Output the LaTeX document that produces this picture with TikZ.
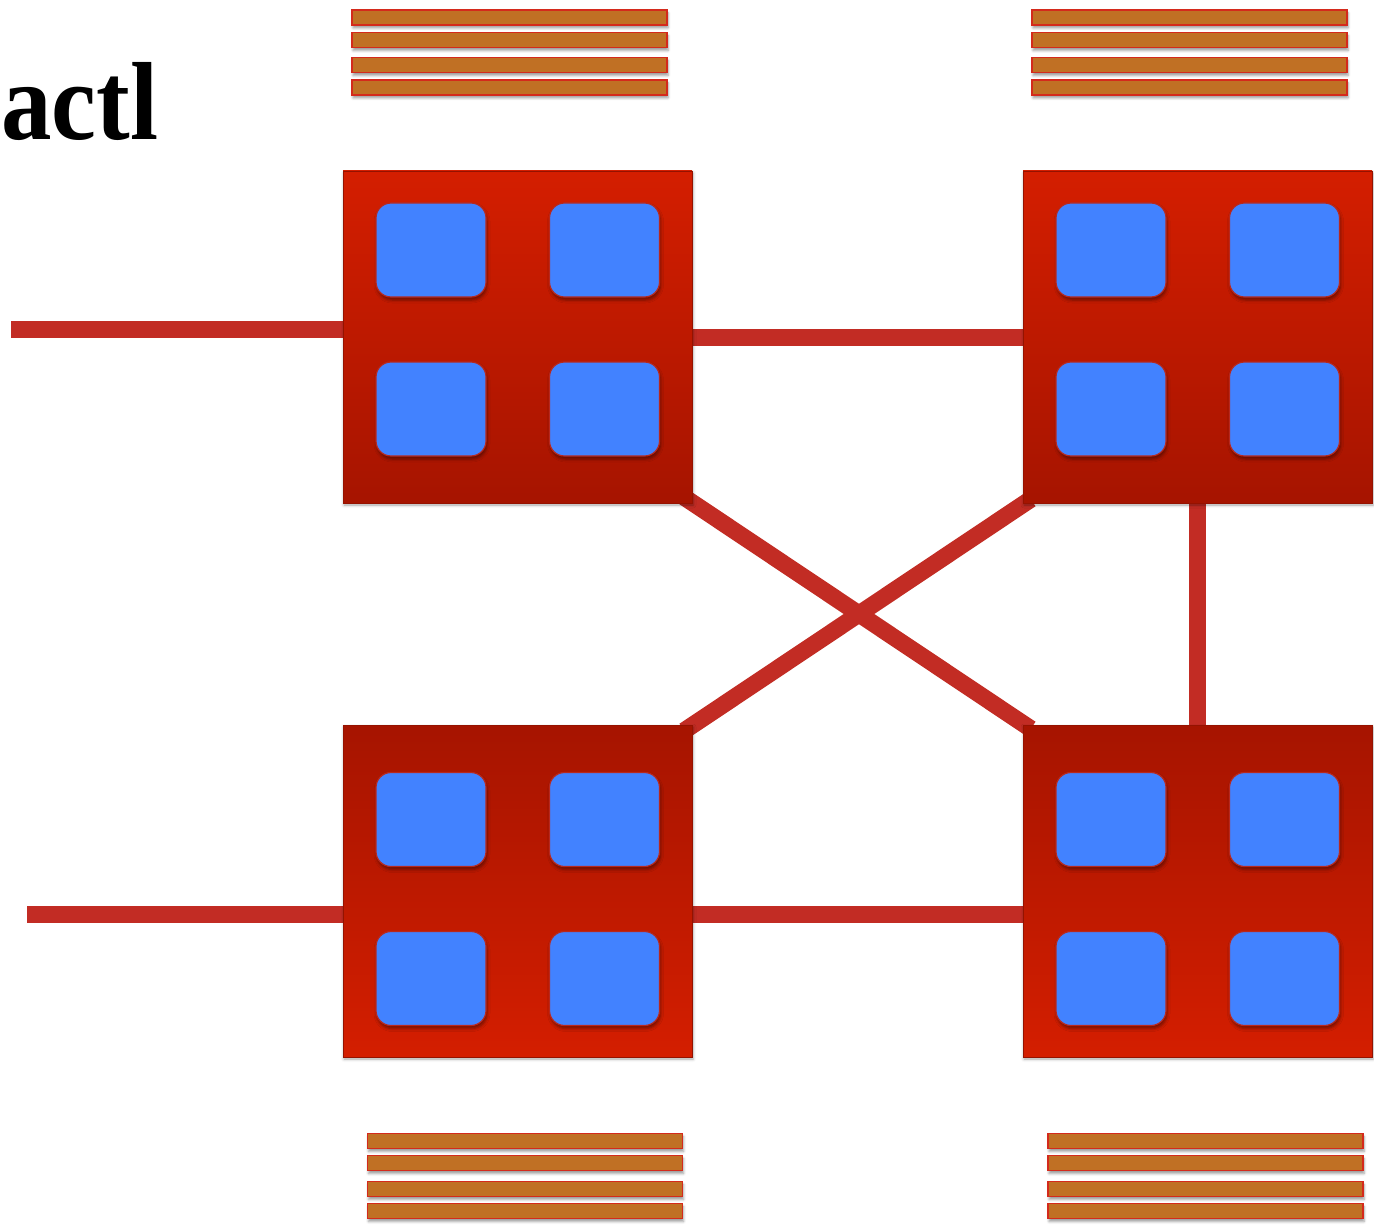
\documentclass[tikz,border=0pt]{standalone}
\usepackage{fontspec}
\setmainfont{Liberation Serif}
\usetikzlibrary{shadows.blur}
\definecolor{chipbright}{HTML}{D41E00}
\definecolor{chipdark}{HTML}{A61400}
\definecolor{corefill}{HTML}{4282FF}
\definecolor{coreedge}{HTML}{B8281E}
\definecolor{linkred}{HTML}{C22C24}
\definecolor{dimmfill}{HTML}{C07024}
\definecolor{dimmedge}{HTML}{D42A1C}
\tikzset{
  chipup/.style={rectangle, inner sep=0pt, minimum width=349pt, minimum height=332pt,
    top color=chipbright, bottom color=chipdark, draw=chipdark!90!black, line width=0.6pt,
    blur shadow={shadow xshift=1pt, shadow yshift=-2pt, shadow blur radius=3pt, shadow opacity=35}},
  chipdown/.style={chipup, top color=chipdark, bottom color=chipbright},
  core/.style={rectangle, rounded corners=15pt, inner sep=0pt, minimum width=110pt, minimum height=94pt,
    fill=corefill, draw=coreedge, line width=1.2pt,
    blur shadow={shadow xshift=1pt, shadow yshift=-3pt, shadow blur radius=3pt, shadow opacity=45}},
  link/.style={draw=linkred, line width=17pt,
    blur shadow={shadow xshift=1pt, shadow yshift=-3pt, shadow blur radius=3pt, shadow opacity=30}},
  dimm/.style={rectangle, inner sep=0pt, minimum width=315pt, minimum height=15pt,
    fill=dimmfill, draw=dimmedge, line width=1.6pt,
    blur shadow={shadow xshift=1pt, shadow yshift=-3pt, shadow blur radius=2.5pt, shadow opacity=40}},
}
\begin{document}
\begin{tikzpicture}[x=1pt,y=-1pt]
\useasboundingbox (0,0) rectangle (1374,1225);
\clip (0,0) rectangle (1374,1225);

% heading fragment
\node[anchor=base west, inner sep=0pt, font=\bfseries\fontsize{101}{101}\selectfont] (title) at (1,140) {\scalebox{1}[1.1]{actl}};

% free ends of the external links
\coordinate (inA) at (11,329);
\coordinate (inB) at (27,914);

% chip positions (centres), drawn after the links
\coordinate (ptl) at (517.5,337);
\coordinate (ptr) at (1197.5,337);
\coordinate (pbl) at (517.5,891);
\coordinate (pbr) at (1197.5,891);

% placeholder nodes used as link anchors
\begin{scope}[every node/.style={rectangle, inner sep=0pt, minimum width=349pt, minimum height=332pt}]
  \node (tl) at (ptl) {};
  \node (tr) at (ptr) {};
  \node (bl) at (pbl) {};
  \node (br) at (pbr) {};
\end{scope}

% interconnect links
\draw[link] (inA) -- ([xshift=8pt]tl.west |- inA);
\draw[link] ([xshift=-8pt]tl.east) -- ([xshift=8pt]tr.west);
\draw[link] ([xshift=-8pt,yshift=6pt]tl.south east) -- ([xshift=8pt,yshift=-4pt]br.north west);
\draw[link] ([xshift=-8pt,yshift=-6pt]bl.north east) -- ([xshift=8pt,yshift=4pt]tr.south west);
\draw[link] ([yshift=8pt]tr.south) -- ([yshift=-8pt]br.north);
\draw[link] (inB) -- ([xshift=8pt]bl.west |- inB);
\draw[link] ([xshift=-8pt]bl.east |- inB) -- ([xshift=8pt]br.west |- inB);

% sockets with four cores each
\node[chipup] (tlchip) at (ptl) {};
\node[chipup] (trchip) at (ptr) {};
\node[chipdown] (blchip) at (pbl) {};
\node[chipdown] (brchip) at (pbr) {};

\foreach \c in {tl,tr}{
  \node[core] (\c-1) at ([xshift=-86.5pt,yshift=87pt]\c chip.center) {};
  \node[core] (\c-2) at ([xshift=87pt,yshift=87pt]\c chip.center) {};
  \node[core] (\c-3) at ([xshift=-86.5pt,yshift=-72pt]\c chip.center) {};
  \node[core] (\c-4) at ([xshift=87pt,yshift=-72pt]\c chip.center) {};
}
\foreach \c in {bl,br}{
  \node[core] (\c-1) at ([xshift=-86.5pt,yshift=71.5pt]\c chip.center) {};
  \node[core] (\c-2) at ([xshift=87pt,yshift=71.5pt]\c chip.center) {};
  \node[core] (\c-3) at ([xshift=-86.5pt,yshift=-87.5pt]\c chip.center) {};
  \node[core] (\c-4) at ([xshift=87pt,yshift=-87.5pt]\c chip.center) {};
}

% memory modules
\foreach \i/\y in {1/17.5,2/40,3/65,4/87.5}{
  \node[dimm] (mtl\i) at (509.5,\y) {};
  \node[dimm] (mtr\i) at (1189.5,\y) {};
}
\foreach \i/\y in {1/1141,2/1163,3/1189,4/1211}{
  \node[dimm] (mbl\i) at (525,\y) {};
  \node[dimm] (mbr\i) at (1205.5,\y) {};
}
\end{tikzpicture}
\end{document}
